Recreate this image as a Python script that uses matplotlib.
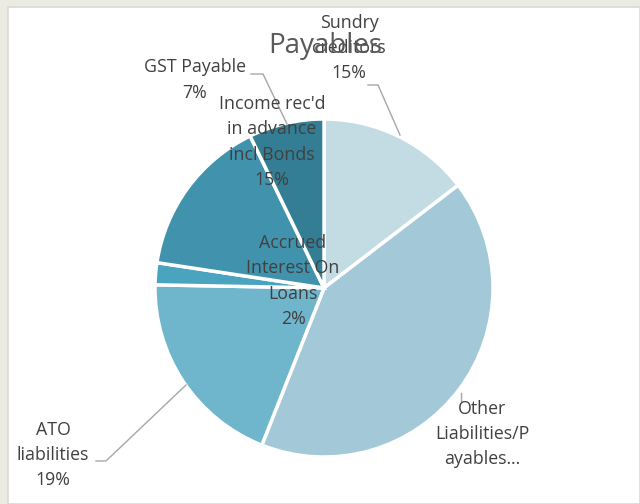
import matplotlib.pyplot as plt
from matplotlib.patches import Rectangle

# data
names = ["Sundry\ncreditors", "Other\nLiabilities/P\nayables\u2026", "ATO\nliabilities",
         "Accrued\nInterest On\nLoans", "Income rec'd\nin advance\nincl Bonds", "GST Payable"]
values = [14.6, 41.4, 19.3, 2.1, 15.4, 7.2]
show_pct = [True, False, True, True, True, True]

COLORS = ["#c3dce4", "#a3c9d9", "#6fb5cc", "#4ba4bf", "#4193ad", "#337e95"]
TEXT_COLOR = "#404040"
FONT = "Open Sans"

W, H = 640, 504
# label block centres (pixels from top-left)
LABEL_POS = [(349, 48), (482, 434), (53, 455), (293, 281), (272, 142), (195, 80)]
# leader lines (pixels from top-left)
LEADERS = [
    [(368, 85), (378, 85), (400, 135)],
    [(461, 393), (461, 401)],
    [(96, 461), (106, 461), (186, 385)],
    [],
    [],
    [(251, 74), (263, 74), (287, 124)],
]


def px(x, y):
    return x, H - y


fig = plt.figure(figsize=(W / 100, H / 100), dpi=100)
fig.patch.set_facecolor("#ecebe1")
fig.patches.append(Rectangle((8 / W, 0), 1 - 8 / W, 1 - 7 / H, transform=fig.transFigure,
                             facecolor="white", edgecolor="#d9d9d9", linewidth=1.2,
                             zorder=-5))

ax = fig.add_axes([0, 0, 1, 1])
ax.set_facecolor("none")
ax.pie(values, colors=COLORS, startangle=90, counterclock=False,
       center=px(324, 288), radius=169,
       wedgeprops=dict(edgecolor="white", linewidth=2.5))
ax.set_xlim(0, W)
ax.set_ylim(0, H)
ax.axis("off")

total = sum(values)
for name, val, show, pos, leader in zip(names, values, show_pct, LABEL_POS, LEADERS):
    text = name
    if show:
        text += "\n{:.0f}%".format(round(val / total * 100))
    ax.text(*px(*pos), text, ha="center", va="center", fontsize=12.8,
            color=TEXT_COLOR, family=FONT, linespacing=1.52)
    if leader:
        xs = [p[0] for p in leader]
        ys = [H - p[1] for p in leader]
        ax.plot(xs, ys, color="#a6a6a6", linewidth=1)

ax.text(*px(325, 46), "Payables", ha="center", va="center", fontsize=20,
        color="#595959", family=FONT)

plt.savefig("out.png", dpi=100)
